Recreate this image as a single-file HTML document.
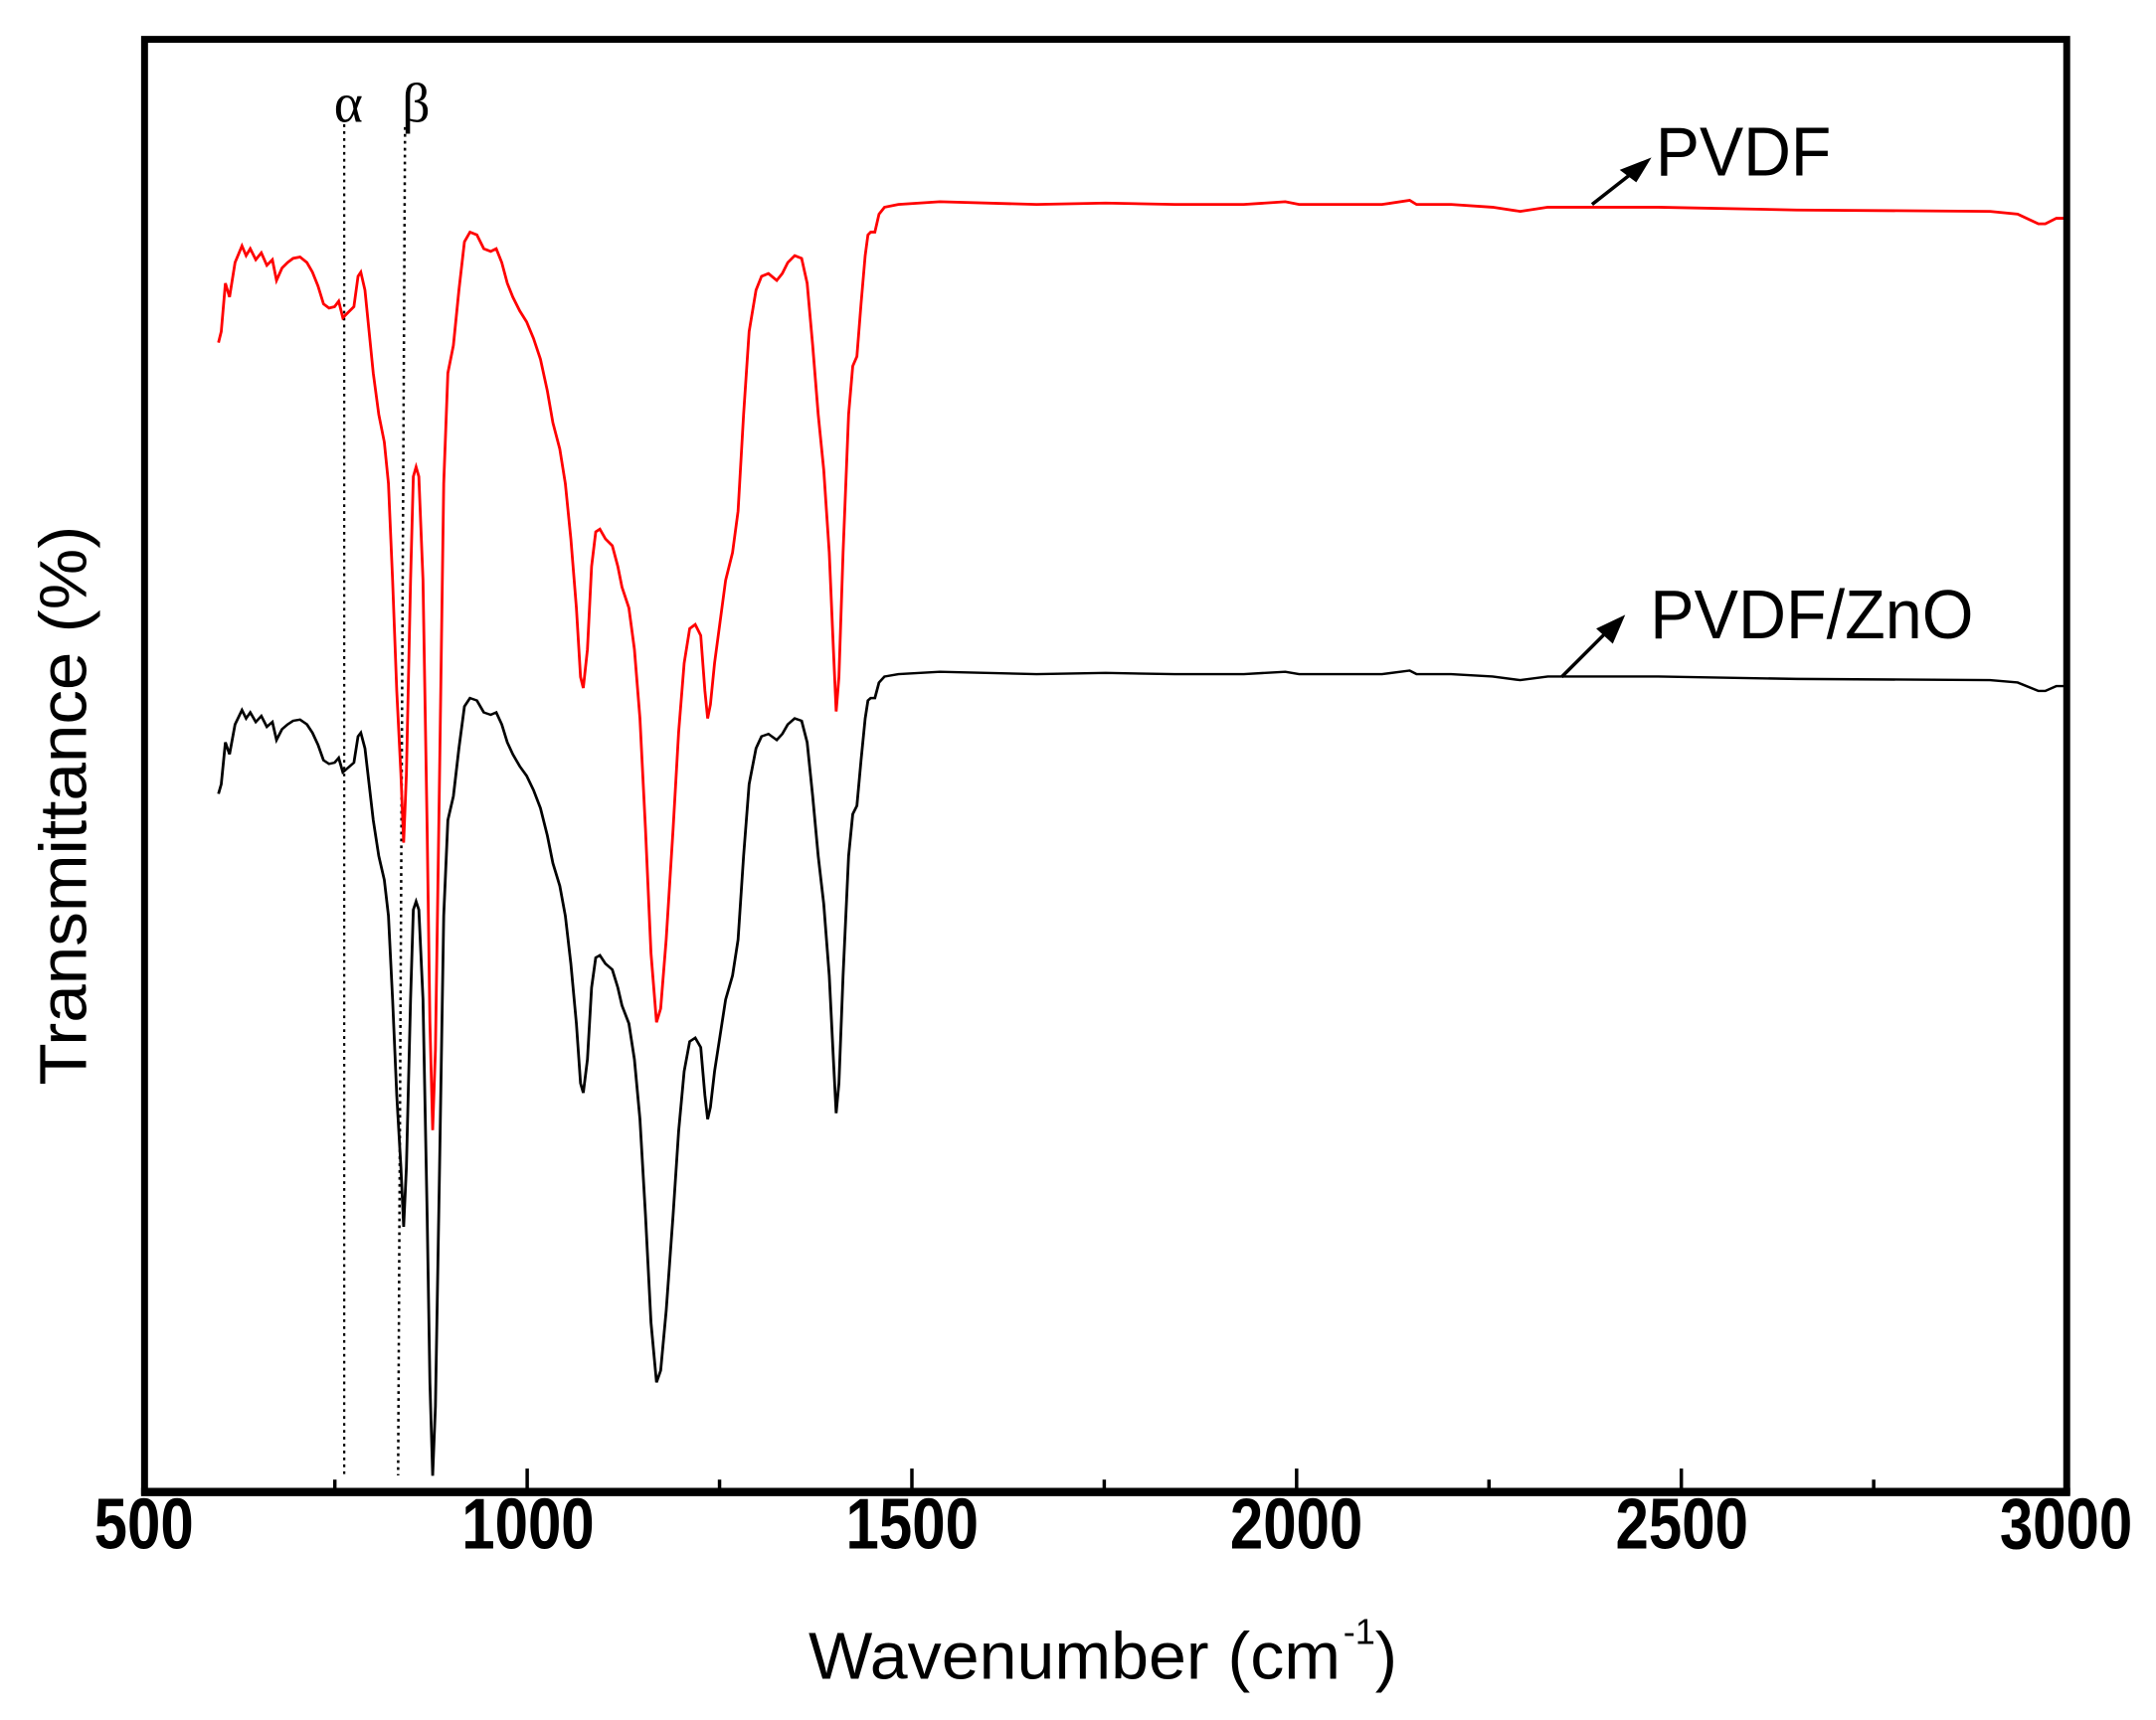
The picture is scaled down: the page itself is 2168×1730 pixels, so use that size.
<!DOCTYPE html>
<html><head><meta charset="utf-8"><style>
html,body{margin:0;padding:0;background:#fff;}
svg{display:block;}
</style></head><body>
<svg width="2168" height="1730" viewBox="0 0 1560 1245" xmlns="http://www.w3.org/2000/svg" font-family="Liberation Sans, Arial, sans-serif">
<rect width="1560" height="1245" fill="#fff"/>
<defs>
<path id="sp" d="M158,248 L160,240 163,205 166,215 170,190 175,178 178,185 181,180 185,188 189,183 193,192 197,188 200,203 204,194 208,190 212,187 217,186 222,190 226,197 230,207 234,220 238,223 242,222 245,218 248,230 252,226 256,222 259,200 261,197 264,210 267,240 270,270 274,300 278,320 281,350 284,420 287,500 290,560 292,610 294,560 297,420 299,345 301,338 303,345 306,420 309,600 311,740 313,818 315,760 318,560 321,350 324,270 328,250 332,210 336,175 340,168 345,170 350,180 355,182 359,180 363,190 367,205 371,215 376,225 381,233 386,245 391,260 396,283 400,306 405,325 409,350 413,390 417,440 420,490 422,498 425,470 428,410 431,385 434,383 438,390 443,395 447,410 450,425 455,440 459,470 463,520 467,600 471,690 475,740 478,730 482,680 487,600 491,530 495,480 499,455 503,452 507,460 510,500 512,520 514,510 517,480 521,450 525,420 530,400 534,370 538,300 542,240 547,210 551,200 556,198 562,203 566,198 570,190 575,185 580,187 584,205 588,250 592,300 596,340 600,400 603,470 605,515 607,490 610,400 614,300 617,265 620,258 623,220 626,185 628,170 630,168 633,168 636,155 640,150 650,148 680,146 750,148 800,147 850,148 900,148 930,146 940,148 1000,148 1020,145 1025,148 1050,148 1080,150 1100,153 1120,150 1200,150 1300,152 1440,153 1460,155 1475,162 1480,162 1488,158 1495,158" fill="none"/>
</defs>
<line x1="249" y1="90" x2="249" y2="1070" stroke="#000" stroke-width="1.6" stroke-dasharray="2,3"/>
<line x1="293" y1="92" x2="288" y2="1068" stroke="#000" stroke-width="1.8" stroke-dasharray="2,3"/>
<text x="252" y="88" font-family="Liberation Serif, serif" font-size="40" text-anchor="middle">α</text>
<text x="301" y="88" font-family="Liberation Serif, serif" font-size="40" text-anchor="middle">β</text>
<use href="#sp" stroke="#ff0000" stroke-width="2"/>
<g transform="matrix(1,0,0,0.866,0,359.8)"><use href="#sp" stroke="#000" stroke-width="2" vector-effect="non-scaling-stroke" style="vector-effect:non-scaling-stroke"/></g>
<rect x="104.5" y="28.5" width="1391" height="1051" fill="none" stroke="#000" stroke-width="5"/>
<line x1="102" y1="1080" x2="1498" y2="1080" stroke="#000" stroke-width="6"/>
<g stroke="#000" stroke-width="2.5">
<line x1="381.4" y1="1080" x2="381.4" y2="1063"/>
<line x1="659.8" y1="1080" x2="659.8" y2="1063"/>
<line x1="938.2" y1="1080" x2="938.2" y2="1063"/>
<line x1="1216.6" y1="1080" x2="1216.6" y2="1063"/>
<line x1="242.2" y1="1080" x2="242.2" y2="1071"/>
<line x1="520.6" y1="1080" x2="520.6" y2="1071"/>
<line x1="799" y1="1080" x2="799" y2="1071"/>
<line x1="1077.4" y1="1080" x2="1077.4" y2="1071"/>
<line x1="1355.8" y1="1080" x2="1355.8" y2="1071"/>
</g>
<g font-size="52" font-weight="bold" text-anchor="middle">
<text x="104" y="1121" textLength="72" lengthAdjust="spacingAndGlyphs">500</text>
<text x="382" y="1121" textLength="96" lengthAdjust="spacingAndGlyphs">1000</text>
<text x="660" y="1121" textLength="96" lengthAdjust="spacingAndGlyphs">1500</text>
<text x="938" y="1121" textLength="96" lengthAdjust="spacingAndGlyphs">2000</text>
<text x="1217" y="1121" textLength="96" lengthAdjust="spacingAndGlyphs">2500</text>
<text x="1495" y="1121" textLength="96" lengthAdjust="spacingAndGlyphs">3000</text>
</g>
<text x="585" y="1215" font-size="48" textLength="385" lengthAdjust="spacingAndGlyphs">Wavenumber (cm</text>
<text x="972" y="1190" font-size="26">-1</text>
<text x="995" y="1215" font-size="48">)</text>
<text transform="translate(62,583) rotate(-90)" font-size="48" text-anchor="middle" textLength="405" lengthAdjust="spacingAndGlyphs">Transmittance (%)</text>
<text x="1198" y="127" font-size="50" textLength="127" lengthAdjust="spacingAndGlyphs">PVDF</text>
<text x="1194" y="462" font-size="50" textLength="234" lengthAdjust="spacingAndGlyphs">PVDF/ZnO</text>
<g stroke="#000" stroke-width="2.5">
<line x1="1152" y1="148" x2="1180" y2="126"/>
<line x1="1130" y1="490" x2="1162" y2="458"/>
</g>
<polygon points="1195,114 1172,123 1184,132" fill="#000"/>
<polygon points="1176,445 1155,455 1167,466" fill="#000"/>
</svg>
</body></html>
